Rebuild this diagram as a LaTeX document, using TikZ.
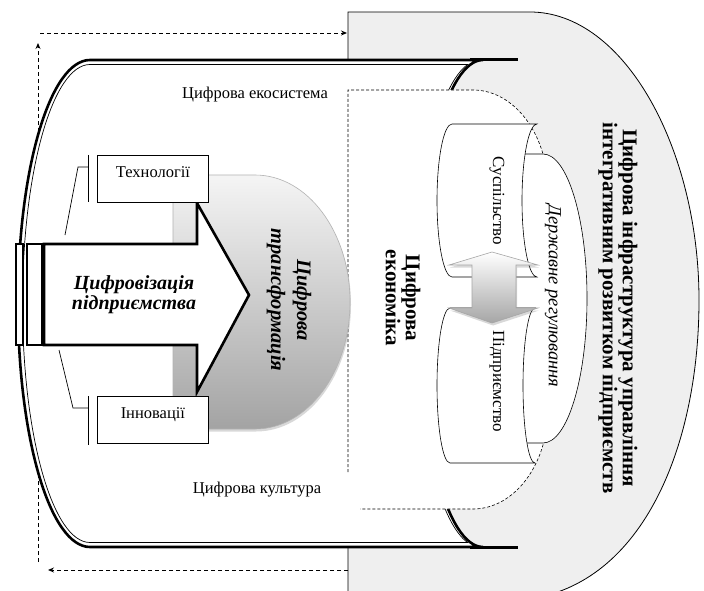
\documentclass[tikz,border=0pt]{standalone}
\usepackage{fontspec}
\setmainfont{Liberation Serif}
\usetikzlibrary{arrows.meta,shadows}
\definecolor{infragray}{HTML}{EFEFEF}
\begin{document}
\begin{tikzpicture}[x=1pt,y=-1pt,
  every node/.style={inner sep=0pt},
  thickout/.style={line width=2.6pt},
  thinin/.style={line width=0.7pt},
  dashloop/.style={line width=0.9pt, dash pattern=on 4pt off 3pt},
  econdash/.style={line width=0.6pt, dash pattern=on 3pt off 2pt},
  arrowhd/.style={-{Stealth[length=6pt,width=5pt]}},
  plain/.style={font=\fontsize{16.5}{19}\selectfont},
  boxlbl/.style={draw, line width=0.8pt, fill=white, minimum width=111pt, minimum height=47pt, anchor=north west, text height=18pt, text depth=21pt, font=\fontsize{16.5}{19}\selectfont},
  scroll/.style={fill=white, draw=black, line width=0.6pt},
  softshadow/.style={drop shadow={opacity=0.3, shadow xshift=1pt, shadow yshift=-2.5pt}}
]
\useasboundingbox (0,0) rectangle (704,591);
\clip (0,0) rectangle (704,591);

% infrastructure region
\path[fill=infragray, draw=black, line width=0.8pt] (348,600) -- (348,12) -- (530,12)
  .. controls (625,12) and (699,150) .. (699,300)
  .. controls (699,450) and (640,590) .. (520,600) -- cycle;

% dashed loop
\coordinate (lb) at (38,562); \coordinate (lm) at (38,300); \coordinate (lt) at (38,43);
\coordinate (ts) at (40,33); \coordinate (te) at (347,33);
\coordinate (bs) at (348,570); \coordinate (be) at (48,570);
\draw[dashloop] (lb) -- (lm);
\draw[dashloop,arrowhd] (lm) -- (lt);
\draw[dashloop,arrowhd] (ts) -- (te);
\draw[dashloop,arrowhd] (bs) -- (be);

% ecosystem
\path[fill=white] (90,60) -- (483,60) arc[start angle=270,end angle=90,x radius=65,y radius=243.5]
  -- (90,547) arc[start angle=90,end angle=270,x radius=72,y radius=243.5] -- cycle;
\draw[thickout] (90,60) -- (483,60) arc[start angle=270,end angle=90,x radius=65,y radius=243.5]
  -- (90,547) arc[start angle=90,end angle=270,x radius=72,y radius=243.5] -- cycle;
\draw[thinin] (90,64.5) -- (467.6,64.5) arc[start angle=259,end angle=101,x radius=65,y radius=243.5]
  -- (90,542.5) arc[start angle=90,end angle=270,x radius=67.5,y radius=239] -- cycle;
\draw[line width=3pt] (470,60) -- (518,60);
\draw[line width=3pt] (470,547) -- (518,547);

% digital economy region
\path[fill=white] (348,90) -- (473,90) arc[start angle=270,end angle=360,x radius=75,y radius=100]
  -- (548,409) arc[start angle=0,end angle=90,x radius=75,y radius=100] -- (348,509) -- cycle;
\draw[econdash] (348,472) -- (348,90) -- (473,90) arc[start angle=270,end angle=360,x radius=75,y radius=100]
  -- (548,409) arc[start angle=0,end angle=90,x radius=75,y radius=100] -- (360,509);

% texts of ecosystem
\node[plain] (eco) at (255,95) {Цифрова екосистема};
\node[plain] (cult) at (257,490) {Цифрова культура};

% digital transformation shape
\path[softshadow, draw=gray!60, line width=0.6pt, top color=black!4, bottom color=black!36]
  (173,175) -- (255,175) arc[start angle=270,end angle=450,x radius=95,y radius=127] -- (173,429) -- cycle;
\node[rotate=-90, font=\bfseries\itshape\fontsize{20.5}{26}\selectfont, align=center] (trans) at (289,300) {Цифрова\\трансформація};

% big arrow and bars
\draw[thickout, fill=white, line join=miter] (44,244) -- (197,244) -- (197,203) -- (249,295) -- (197,392) -- (197,345) -- (44,345) -- cycle;
\draw[line width=2.2pt, fill=white] (16,244) rectangle (23,345);
\draw[line width=2.2pt, fill=white] (27,244) rectangle (42,345);
\node[font=\bfseries\itshape\fontsize{20}{20}\selectfont, align=center] (digi) at (134,295) {Цифровізація\\підприємства};

% boxes
\node[boxlbl] (tech) at (97,155) {Технології};
\node[boxlbl] (inno) at (97,396) {Інновації};
\draw[thinin] (88,155) -- (88,202);
\draw[thinin] (88,167) -- (78,167) -- (65,235);
\draw[thinin] (88,396) -- (88,445);
\draw[thinin] (88,408) -- (73,408) -- (59,350);

\node[rotate=-90, font=\bfseries\fontsize{21}{20}\selectfont, align=center] (econ) at (403,298) {Цифрова\\економіка};

% government regulation cylinder
\path[fill=white] (524,154) -- (543,154) arc[start angle=270,end angle=450,x radius=44,y radius=144.5] -- (524,443) -- cycle;
\draw[line width=0.6pt] (524,154) -- (543,154) arc[start angle=270,end angle=450,x radius=44,y radius=144.5] -- (524,443);
\node[rotate=-90, font=\itshape\fontsize{18.5}{20}\selectfont] (gov) at (553,296) {Державне регулювання};

% scrolls
\path[scroll] (452,124) -- (537,124) arc[start angle=270,end angle=90,x radius=15,y radius=76.5]
  -- (452,277) arc[start angle=90,end angle=270,x radius=15,y radius=76.5] -- cycle;
\path[scroll] (450,308) -- (535,308) arc[start angle=270,end angle=90,x radius=12,y radius=77.5]
  -- (450,463) arc[start angle=90,end angle=270,x radius=13,y radius=77.5] -- cycle;
\node[rotate=-90, font=\fontsize{17}{19}\selectfont] (soc) at (497,201) {Суспільство};
\node[rotate=-90, font=\fontsize{17}{19}\selectfont] (ent) at (497,381) {Підприємство};

% double arrow
\path[softshadow, draw=gray!70, line width=0.6pt, top color=white, bottom color=black!35]
  (492,252) -- (538,265) -- (516,265) -- (516,308) -- (538,308) -- (492,323)
  -- (449,308) -- (472,308) -- (472,265) -- (449,265) -- cycle;

% infrastructure text
\node[rotate=-90, font=\bfseries\fontsize{21}{20}\selectfont, align=center] (infra) at (618,308) {Цифрова інфраструктура управління\\інтегративним розвитком підприємств};
\end{tikzpicture}
\end{document}
